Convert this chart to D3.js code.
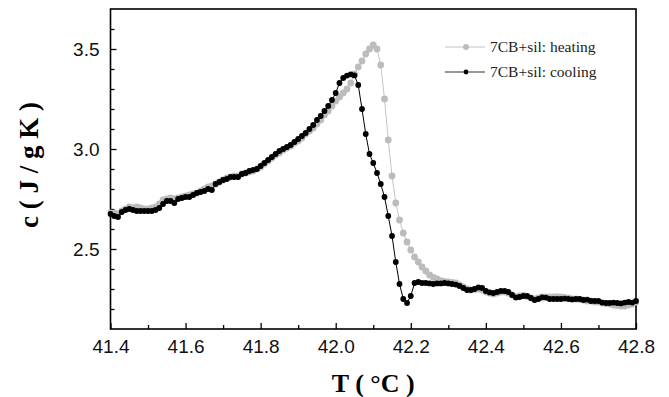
<!DOCTYPE html>
<html>
<head>
<meta charset="utf-8">
<script src="https://cdn.jsdelivr.net/npm/d3@7"></script>
<style>
	body { margin: 0; background: #fff; }
	svg { display: block; }
</style>
</head>
<body>
<svg id="chart"></svg>
<script>
// temperature grid (T in °C) shared by both runs
var temps = [41.40, 41.41, 41.42, 41.43, 41.44, 41.45, 41.46, 41.47, 41.48, 41.49,
	41.50, 41.51, 41.52, 41.53, 41.54, 41.55, 41.56, 41.57, 41.58, 41.59,
	41.60, 41.61, 41.62, 41.63, 41.64, 41.65, 41.66, 41.67, 41.68, 41.69,
	41.70, 41.71, 41.72, 41.73, 41.74, 41.75, 41.76, 41.77, 41.78, 41.79,
	41.80, 41.81, 41.82, 41.83, 41.84, 41.85, 41.86, 41.87, 41.88, 41.89,
	41.90, 41.91, 41.92, 41.93, 41.94, 41.95, 41.96, 41.97, 41.98, 41.99,
	42.00, 42.01, 42.02, 42.03, 42.04, 42.05, 42.06, 42.07, 42.08, 42.09,
	42.10, 42.11, 42.12, 42.13, 42.14, 42.15, 42.16, 42.17, 42.18, 42.19,
	42.20, 42.21, 42.22, 42.23, 42.24, 42.25, 42.26, 42.27, 42.28, 42.29,
	42.30, 42.31, 42.32, 42.33, 42.34, 42.35, 42.36, 42.37, 42.38, 42.39,
	42.40, 42.41, 42.42, 42.43, 42.44, 42.45, 42.46, 42.47, 42.48, 42.49,
	42.50, 42.51, 42.52, 42.53, 42.54, 42.55, 42.56, 42.57, 42.58, 42.59,
	42.60, 42.61, 42.62, 42.63, 42.64, 42.65, 42.66, 42.67, 42.68, 42.69,
	42.70, 42.71, 42.72, 42.73, 42.74, 42.75, 42.76, 42.77, 42.78, 42.79,
	42.80]

// specific heat c (J / g K), heating run
var heating = [2.680, 2.680, 2.675, 2.690, 2.700, 2.710, 2.705, 2.710, 2.705, 2.700,
	2.700, 2.705, 2.710, 2.725, 2.745, 2.750, 2.755, 2.750, 2.755, 2.760,
	2.765, 2.770, 2.775, 2.780, 2.790, 2.800, 2.810, 2.815, 2.825, 2.835,
	2.845, 2.855, 2.860, 2.865, 2.865, 2.875, 2.880, 2.885, 2.890, 2.900,
	2.910, 2.925, 2.940, 2.955, 2.970, 2.980, 2.995, 3.005, 3.015, 3.030,
	3.040, 3.055, 3.075, 3.090, 3.105, 3.125, 3.145, 3.170, 3.190, 3.215,
	3.240, 3.260, 3.280, 3.300, 3.330, 3.375, 3.410, 3.440, 3.475, 3.500,
	3.520, 3.500, 3.420, 3.250, 3.045, 2.865, 2.730, 2.645, 2.580, 2.535,
	2.495, 2.460, 2.435, 2.410, 2.390, 2.370, 2.358, 2.350, 2.342, 2.338,
	2.335, 2.333, 2.330, 2.320, 2.310, 2.300, 2.295, 2.298, 2.300, 2.295,
	2.285, 2.280, 2.275, 2.280, 2.285, 2.285, 2.280, 2.270, 2.260, 2.265,
	2.268, 2.262, 2.255, 2.250, 2.255, 2.260, 2.260, 2.260, 2.260, 2.262,
	2.260, 2.258, 2.255, 2.250, 2.250, 2.248, 2.245, 2.240, 2.240, 2.235,
	2.235, 2.230, 2.228, 2.225, 2.220, 2.218, 2.215, 2.215, 2.220, 2.225,
	2.235]

// specific heat c (J / g K), cooling run
var cooling = [2.675, 2.665, 2.660, 2.685, 2.695, 2.700, 2.695, 2.690, 2.690, 2.690,
	2.690, 2.690, 2.695, 2.705, 2.725, 2.740, 2.740, 2.730, 2.750, 2.755,
	2.760, 2.760, 2.770, 2.780, 2.785, 2.790, 2.800, 2.795, 2.825, 2.835,
	2.845, 2.850, 2.860, 2.860, 2.860, 2.875, 2.880, 2.890, 2.895, 2.900,
	2.915, 2.930, 2.945, 2.960, 2.975, 2.990, 3.000, 3.010, 3.020, 3.035,
	3.050, 3.065, 3.080, 3.100, 3.120, 3.145, 3.165, 3.190, 3.215, 3.245,
	3.280, 3.330, 3.355, 3.367, 3.373, 3.368, 3.320, 3.200, 3.075, 2.975,
	2.930, 2.880, 2.825, 2.760, 2.665, 2.565, 2.435, 2.325, 2.250, 2.230,
	2.265, 2.330, 2.335, 2.330, 2.330, 2.328, 2.325, 2.328, 2.328, 2.330,
	2.328, 2.325, 2.322, 2.315, 2.305, 2.295, 2.295, 2.300, 2.308, 2.305,
	2.290, 2.283, 2.280, 2.285, 2.290, 2.290, 2.285, 2.270, 2.258, 2.260,
	2.265, 2.265, 2.255, 2.245, 2.250, 2.258, 2.257, 2.250, 2.250, 2.250,
	2.250, 2.252, 2.250, 2.248, 2.250, 2.250, 2.245, 2.247, 2.240, 2.240,
	2.240, 2.232, 2.230, 2.230, 2.232, 2.230, 2.228, 2.232, 2.235, 2.232,
	2.240]

var xTicks = [41.4, 41.6, 41.8, 42.0, 42.2, 42.4, 42.6, 42.8]
var xMinor = [41.5, 41.7, 41.9, 42.1, 42.3, 42.5, 42.7]
var yTicks = [2.5, 3.0, 3.5]
var yMinor = [2.2, 2.3, 2.4, 2.6, 2.7, 2.8, 2.9, 3.1, 3.2, 3.3, 3.4, 3.6]
var seriesNames = ["7CB+sil: heating", "7CB+sil: cooling"]

// set the dimensions and margins
var width = 669
var height = 397
var margin = {left: 110.5, right: 33, top: 9, bottom: 68}

var svg = d3.select("#chart")
	.attr("width", width)
	.attr("height", height)

var x = d3.scaleLinear().domain([41.4, 42.8]).range([margin.left, width - margin.right])
var y = d3.scaleLinear().domain([2.1, 3.7]).range([height - margin.bottom, margin.top])

// axes, ticks pointing into the plot
svg.append("g")
	.attr("transform", "translate(0," + (height - margin.bottom) + ")")
	.call(d3.axisBottom(x).tickValues(xTicks).tickFormat(d3.format(".1f")).tickSize(-6).tickPadding(11))
svg.append("g")
	.attr("transform", "translate(0," + (height - margin.bottom) + ")")
	.call(d3.axisBottom(x).tickValues(xMinor).tickFormat("").tickSize(-4))
svg.append("g")
	.attr("transform", "translate(" + margin.left + ",0)")
	.call(d3.axisLeft(y).tickValues(yTicks).tickFormat(d3.format(".1f")).tickSize(-6).tickPadding(11))
svg.append("g")
	.attr("transform", "translate(" + margin.left + ",0)")
	.call(d3.axisLeft(y).tickValues(yMinor).tickFormat("").tickSize(-4))

svg.selectAll(".domain").remove()
svg.selectAll(".tick line").attr("stroke", "#000").attr("stroke-width", 1.3)
svg.selectAll(".tick text")
	.style("font-family", "'Liberation Sans', Arial, sans-serif")
	.style("font-size", "19px")
	.attr("fill", "#111")

// frame
svg.append("rect")
	.attr("x", margin.left)
	.attr("y", margin.top)
	.attr("width", width - margin.right - margin.left)
	.attr("height", height - margin.bottom - margin.top)
	.attr("fill", "none")
	.attr("stroke", "#000")
	.attr("stroke-width", 1.6)

// axis titles
svg.append("text")
	.attr("x", (margin.left + width - margin.right) / 2)
	.attr("y", 392)
	.attr("text-anchor", "middle")
	.style("font-family", "'Liberation Serif', 'Times New Roman', serif")
	.style("font-weight", "bold")
	.style("font-size", "26px")
	.text("T ( °C )")
svg.append("text")
	.attr("transform", "translate(38,165) rotate(-90)")
	.attr("text-anchor", "middle")
	.style("font-family", "'Liberation Serif', 'Times New Roman', serif")
	.style("font-weight", "bold")
	.style("font-size", "27px")
	.text("c ( J / g K )")

// series
svg.append("clipPath").attr("id", "clip")
	.append("rect")
	.attr("x", margin.left - 3)
	.attr("y", margin.top)
	.attr("width", width - margin.right - margin.left + 6)
	.attr("height", height - margin.bottom - margin.top)

var series = [
	{name: seriesNames[0], values: heating, line: "#c4c4c4", dot: "#bcbcbc", r: 3.4},
	{name: seriesNames[1], values: cooling, line: "#000", dot: "#000", r: 2.9}
]
var line = d3.line()
	.x(d => x(d.t))
	.y(d => y(d.c))

var plot = svg.append("g").attr("clip-path", "url(#clip)")
series.forEach(s => {
	var pts = temps.map((t, i) => ({t: t, c: s.values[i]}))
	plot.append("path")
		.datum(pts)
		.attr("d", line)
		.attr("fill", "none")
		.attr("stroke", s.line)
		.attr("stroke-width", 1)
	plot.append("g").selectAll("circle").data(pts).enter().append("circle")
		.attr("cx", d => x(d.t))
		.attr("cy", d => y(d.c))
		.attr("r", s.r)
		.attr("fill", s.dot)
})

// legend
var legend = svg.append("g")
series.forEach((s, i) => {
	var ly = 47 + i * 25
	legend.append("line")
		.attr("x1", 445).attr("x2", 485)
		.attr("y1", ly).attr("y2", ly)
		.attr("stroke", i === 0 ? "#c4c4c4" : "#333")
		.attr("stroke-width", 1.2)
	legend.append("circle")
		.attr("cx", 466).attr("cy", ly)
		.attr("r", i === 0 ? 3 : 2.4)
		.attr("fill", s.dot)
	legend.append("text")
		.attr("x", 490)
		.attr("y", ly + 5)
		.style("font-family", "'Liberation Serif', 'Times New Roman', serif")
		.style("font-size", "15.5px")
		.attr("fill", "#222")
		.text(s.name)
})
</script>
</body>
</html>
